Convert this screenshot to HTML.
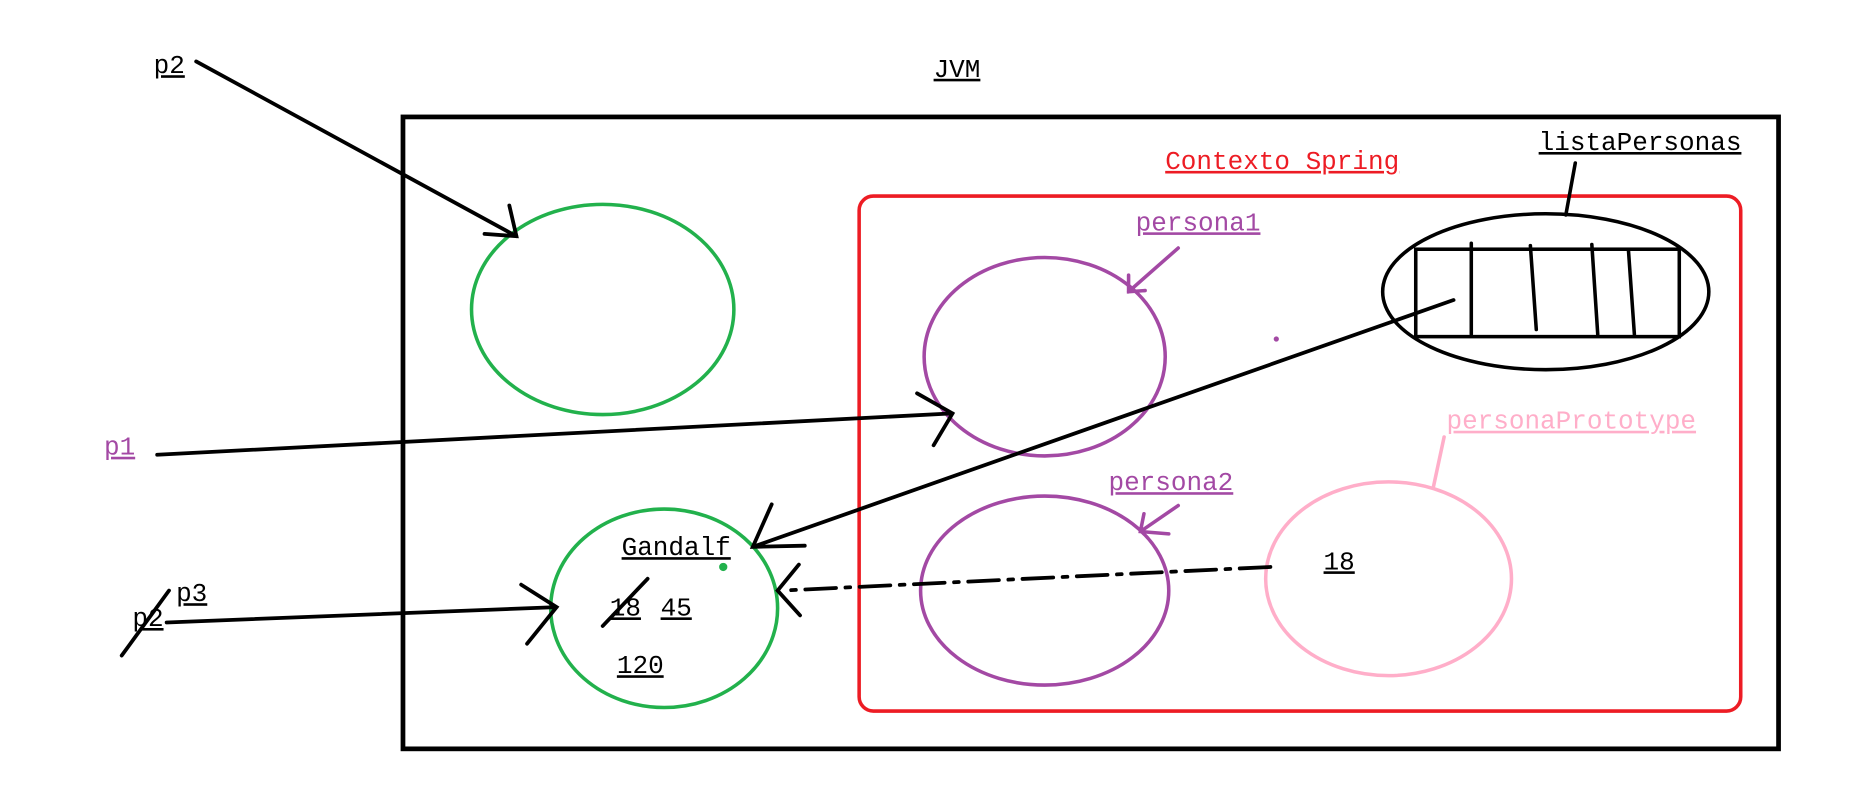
<!DOCTYPE html>
<html><head><meta charset="utf-8"><style>
html,body{margin:0;padding:0;background:#fff;width:1853px;height:802px;overflow:hidden}
svg{display:block}
text{font-family:"Liberation Mono",monospace;font-size:22px;text-decoration:underline}
</style></head><body>
<svg width="1853" height="802" viewBox="0 0 1568 679" preserveAspectRatio="none" xmlns="http://www.w3.org/2000/svg">
<rect width="1568" height="679" fill="#fff"/>
<g fill="none" stroke-linecap="round">
<rect x="341" y="99" width="1164" height="535" stroke="#000" stroke-width="4"/>
<rect x="727" y="166" width="746" height="436" rx="12" stroke="#ed1c24" stroke-width="3"/>
<g stroke="#000" stroke-width="3">
<line x1="1333" y1="138" x2="1325" y2="182"/>
<ellipse cx="1308" cy="247" rx="138" ry="66"/>
<rect x="1198" y="211" width="223" height="74"/>
<line x1="1245" y1="206" x2="1245" y2="283"/>
<line x1="1295" y1="208" x2="1300" y2="279"/>
<line x1="1347" y1="207" x2="1352" y2="283"/>
<line x1="1378" y1="212" x2="1383" y2="283"/>
</g>
<ellipse cx="510" cy="262" rx="111" ry="89" stroke="#22b14c" stroke-width="3"/>
<ellipse cx="884" cy="302" rx="102" ry="84" stroke="#a349a4" stroke-width="3"/>
<ellipse cx="884" cy="500" rx="105" ry="80" stroke="#a349a4" stroke-width="3"/>
<ellipse cx="1175" cy="490" rx="104" ry="82" stroke="#ffaec9" stroke-width="3"/>
<ellipse cx="562" cy="515" rx="96" ry="84" stroke="#22b14c" stroke-width="3"/>
<g stroke="#000" stroke-width="3.2">
<path d="M166 52 L437 200 M431 174 L437 200 L410 198"/>
<path d="M133 385 L806 350 M776 333 L806 350 L790 377"/>
<path d="M1230 254 L637 463 M653 427 L637 463 L681 462"/>
<path d="M1075 480 L662 500" stroke-dasharray="26 8 4 8"/>
<path d="M676 478 L658 500 L677 521"/>
<path d="M141 527 L471 514 M441 495 L471 514 L446 545"/>
<line x1="103" y1="555" x2="143" y2="500"/>
<line x1="510" y1="530" x2="548" y2="490"/>
</g>
<path d="M997 210 L955 247 M955 233 L955 247 L969 246" stroke="#a349a4" stroke-width="3"/>
<path d="M997 428 L965 450 M968 435 L965 450 L989 452" stroke="#a349a4" stroke-width="3"/>
<line x1="1222" y1="370" x2="1213" y2="412" stroke="#ffaec9" stroke-width="3"/>
</g>
<circle cx="1080" cy="287" r="2.2" fill="#a349a4"/>
<circle cx="612" cy="480" r="3.5" fill="#22b14c"/>
<text x="790" y="65">JVM</text>
<text x="986" y="143" fill="#ed1c24">Contexto Spring</text>
<text x="1302" y="127">listaPersonas</text>
<text x="961" y="195" fill="#a349a4">persona1</text>
<text x="938" y="415" fill="#a349a4">persona2</text>
<text x="1224" y="363" fill="#ffaec9">personaPrototype</text>
<text x="130" y="62">p2</text>
<text x="88" y="385" fill="#a349a4">p1</text>
<text x="149" y="509">p3</text>
<text x="112" y="530">p2</text>
<text x="526" y="470">Gandalf</text>
<text x="516" y="521">18</text>
<text x="559" y="521">45</text>
<text x="522" y="570">120</text>
<text x="1120" y="482">18</text>
</svg>
</body></html>
